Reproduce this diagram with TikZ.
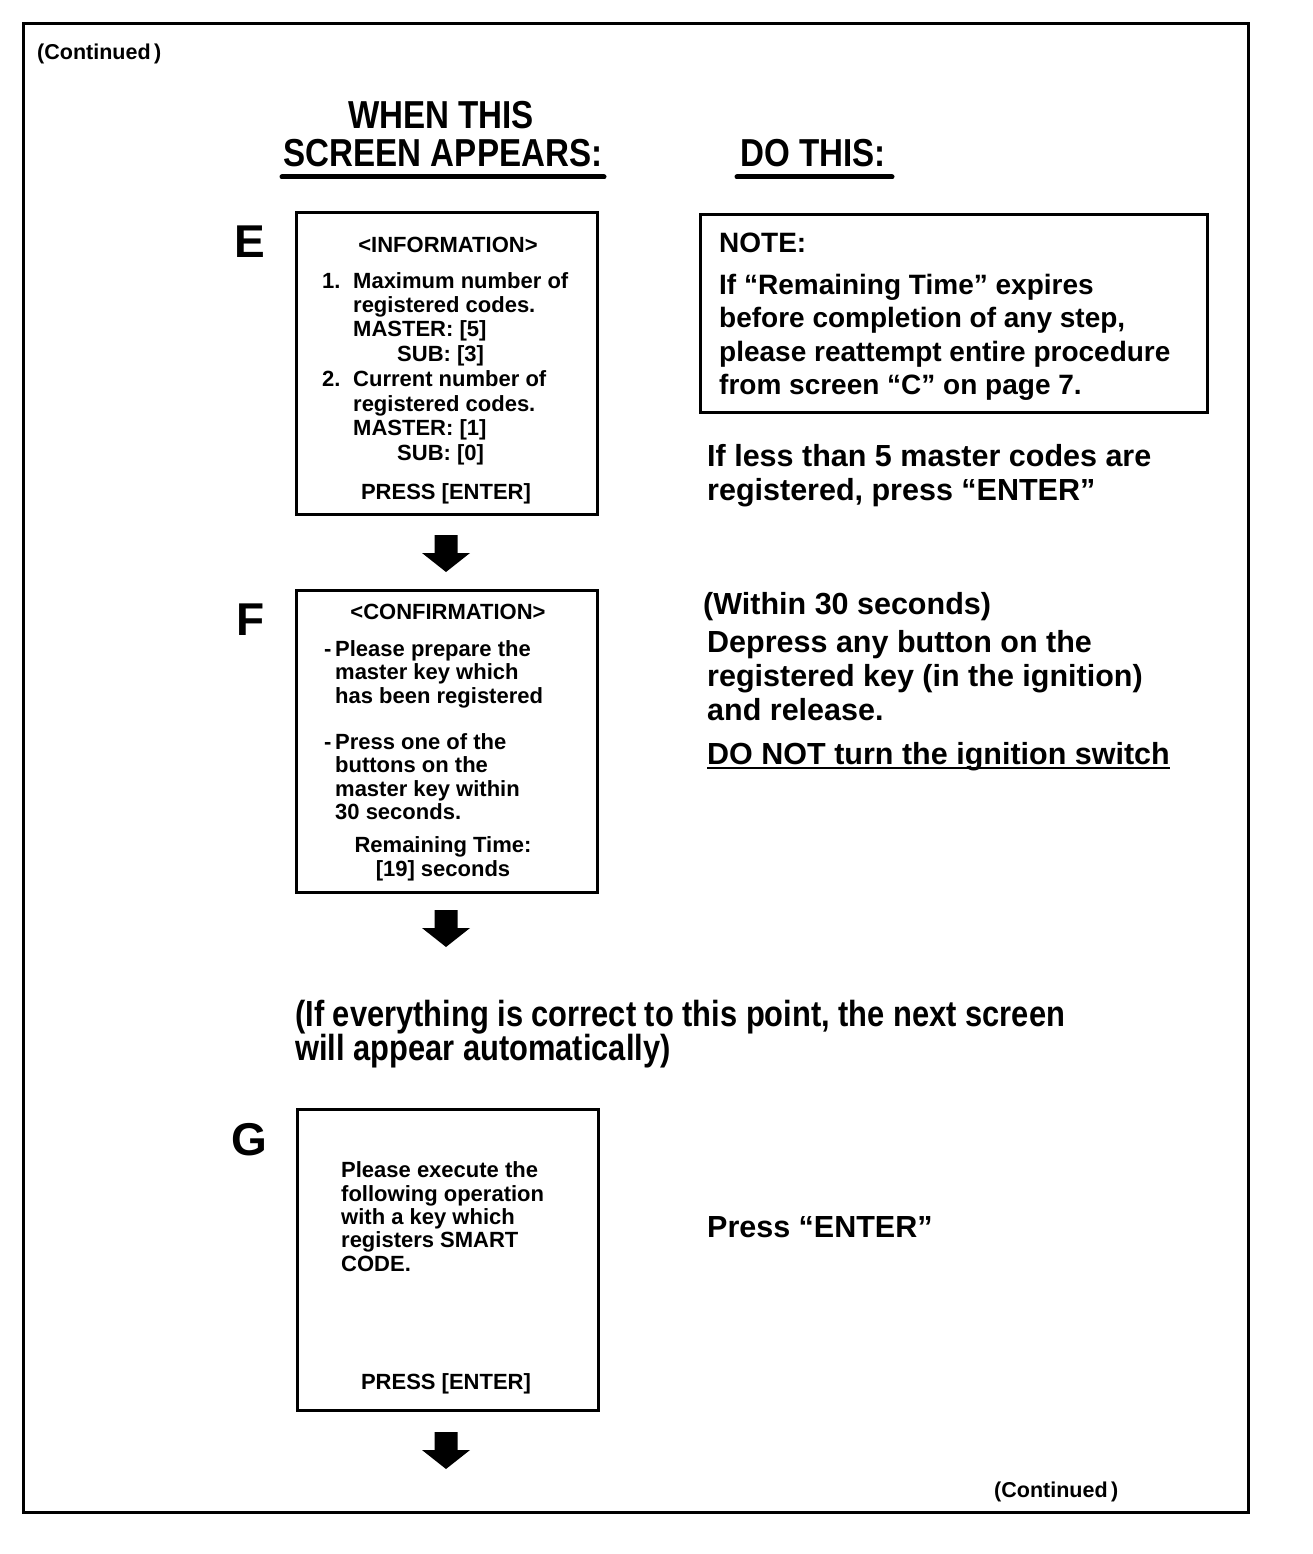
\documentclass[tikz,border=0pt]{standalone}
\usepackage{fontspec}
\setmainfont{Liberation Sans}
\newfontfamily\condfont[FakeStretch=0.85]{Liberation Sans}
\begin{document}
\begin{tikzpicture}[x=1pt,y=-1pt,
 scr/.style={font=\bfseries\fontsize{22}{24}\selectfont, inner sep=0pt, anchor=base west},
 scrc/.style={scr, anchor=base},
 big/.style={font=\bfseries\fontsize{30.5}{34}\selectfont, inner sep=0pt, anchor=base west},
 notetxt/.style={font=\bfseries\fontsize{28}{32}\selectfont, inner sep=0pt, anchor=base west},
 head/.style={font=\condfont\bfseries\fontsize{39}{40}\selectfont, inner sep=0pt, anchor=base},
 mid/.style={font=\condfont\bfseries\fontsize{36.3}{38}\selectfont, inner sep=0pt, anchor=base west},
 letter/.style={font=\bfseries\fontsize{46}{48}\selectfont, inner sep=0pt, anchor=base west},
 cont/.style={font=\bfseries\fontsize{21.5}{24}\selectfont, inner sep=0pt, anchor=base west},
 panel/.style={draw, line width=3pt, inner sep=0pt, anchor=north west},
 rule/.style={line width=5pt, line cap=round},
 blockarrow/.style={fill=black}
]
\useasboundingbox (0,0) rectangle (1312,1554);
\fill[white] (0,0) rectangle (1312,1554);

% outer frame
\node[panel, minimum width=1225pt, minimum height=1489pt] (frame) at (22,22) {};
\node[cont] (conttop) at (37,60) {(Continued\,)};
\node[cont] (contbot) at (994,1497) {(Continued\,)};

% headings
\node[head] (h1) at (441,129) {WHEN THIS};
\node[head] (h2) at (443,167) {SCREEN APPEARS:};
\node[head, anchor=base west] (h3) at (740,167) {DO THIS:};
\coordinate (u1a) at (282,177); \coordinate (u1b) at (604,177);
\coordinate (u2a) at (737,177); \coordinate (u2b) at (892,177);
\draw[rule] (u1a) -- (u1b);
\draw[rule] (u2a) -- (u2b);

% step letters
\node[letter] (lE) at (234,258) {E};
\node[letter] (lF) at (236,635) {F};
\node[letter] (lG) at (231,1155) {G};

% screen E
\node[panel, minimum width=301pt, minimum height=302pt] (boxE) at (295,211) {};
\node[scrc] (e0) at (448,252) {<INFORMATION>};
\node[scr] (e1n) at (322,288) {1.};
\node[scr] (e1) at (353,288) {Maximum number of};
\node[scr] (e2) at (353,312) {registered codes.};
\node[scr] (e3) at (353,336.5) {MASTER: [5]};
\node[scr] (e4) at (397,361) {SUB: [3]};
\node[scr] (e5n) at (322,386.5) {2.};
\node[scr] (e5) at (353,386.5) {Current number of};
\node[scr] (e6) at (353,411) {registered codes.};
\node[scr] (e7) at (353,435) {MASTER: [1]};
\node[scr] (e8) at (397,460) {SUB: [0]};
\node[scrc] (e9) at (446,499) {PRESS [ENTER]};

% note box
\node[panel, minimum width=507pt, minimum height=198pt] (note) at (699,213) {};
\node[notetxt] (n0) at (719,253) {NOTE:};
\node[notetxt] (n1) at (719,294) {If “Remaining Time” expires};
\node[notetxt] (n2) at (719,327.5) {before completion of any step,};
\node[notetxt] (n3) at (719,361) {please reattempt entire procedure};
\node[notetxt] (n4) at (719,394.5) {from screen “C” on page 7.};

\node[big] (r1) at (707,466) {If less than 5 master codes are};
\node[big] (r2) at (707,500) {registered, press “ENTER”};

% arrow 1
\coordinate (a1) at (446,535);
\fill[blockarrow] (a1) ++(-11.5,0) -- ++(23,0) -- ++(0,18) -- ++(12.5,0) -- ++(-24,19) -- ++(-24,-19) -- ++(12.5,0) -- cycle;

% screen F
\node[panel, minimum width=301pt, minimum height=302pt] (boxF) at (295,589) {};
\node[scrc] (f0) at (448,619) {<CONFIRMATION>};
\node[scr] (f1d) at (324,656) {-};
\node[scr] (f1) at (335,656) {Please prepare the};
\node[scr] (f2) at (335,679) {master key which};
\node[scr] (f3) at (335,703) {has been registered};
\node[scr] (f4d) at (324,749) {-};
\node[scr] (f4) at (335,749) {Press one of the};
\node[scr] (f5) at (335,772) {buttons on the};
\node[scr] (f6) at (335,796) {master key within};
\node[scr] (f7) at (335,819) {30 seconds.};
\node[scrc] (f8) at (443,852) {Remaining Time:};
\node[scrc] (f9) at (443,876) {[19] seconds};

\node[big] (s0) at (703,614) {(Within 30 seconds)};
\node[big] (s1) at (707,652) {Depress any button on the};
\node[big] (s2) at (707,686) {registered key (in the ignition)};
\node[big] (s3) at (707,720) {and release.};
\node[big] (s4) at (707,764) {DO NOT turn the ignition switch};
\draw[line width=2.5pt] ([yshift=-4pt]s4.base west) -- ([yshift=-4pt]s4.base east);

% arrow 2
\coordinate (a2) at (446,910);
\fill[blockarrow] (a2) ++(-11.5,0) -- ++(23,0) -- ++(0,18) -- ++(12.5,0) -- ++(-24,19) -- ++(-24,-19) -- ++(12.5,0) -- cycle;

\node[mid] (m1) at (295,1026) {(If everything is correct to this point, the next screen};
\node[mid] (m2) at (295,1060) {will appear automatically)};

% screen G
\node[panel, minimum width=301pt, minimum height=301pt] (boxG) at (296,1108) {};
\node[scr] (g1) at (341,1177) {Please execute the};
\node[scr] (g2) at (341,1201) {following operation};
\node[scr] (g3) at (341,1224) {with a key which};
\node[scr] (g4) at (341,1247.5) {registers SMART};
\node[scr] (g5) at (341,1271) {CODE.};
\node[scrc] (g6) at (446,1389) {PRESS [ENTER]};

\node[big] (t1) at (707,1237) {Press “ENTER”};

% arrow 3
\coordinate (a3) at (446,1432);
\fill[blockarrow] (a3) ++(-11.5,0) -- ++(23,0) -- ++(0,18) -- ++(12.5,0) -- ++(-24,19) -- ++(-24,-19) -- ++(12.5,0) -- cycle;
\end{tikzpicture}
\end{document}
